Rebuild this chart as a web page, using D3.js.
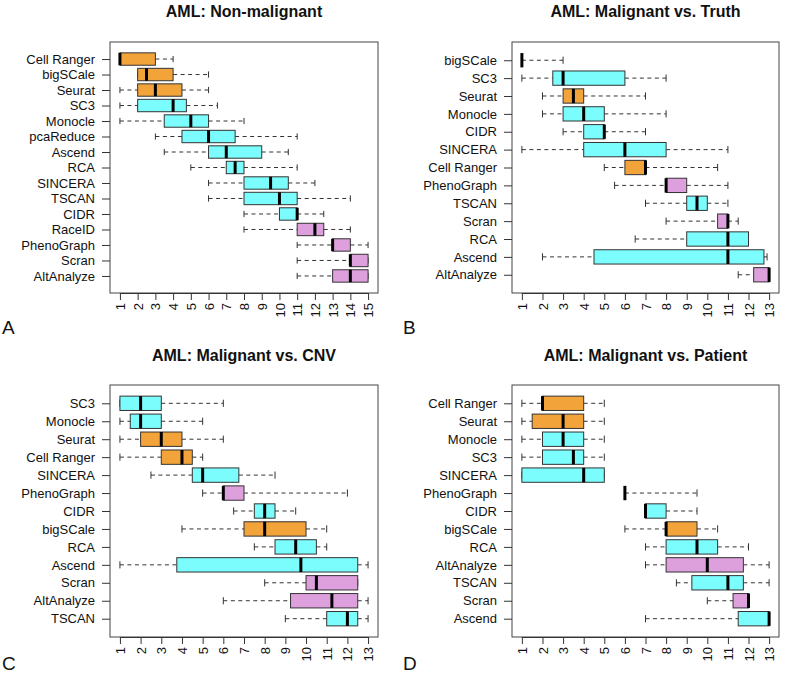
<!DOCTYPE html>
<html>
<head>
<meta charset="utf-8">
<script src="https://cdnjs.cloudflare.com/ajax/libs/d3/7.8.5/d3.min.js"></script>
<style>
  body { margin: 0; background: #fff; }
  svg { display: block; font-family: "Liberation Sans", Arial, sans-serif; }
</style>
</head>
<body>
<svg id="chart" width="787" height="679"></svg>
<script>
// ---------- Data (five-number summaries) ----------
// Panel A: AML: Non-malignant
const aTitle = "AML: Non-malignant";
const aMethods = ["Cell Ranger","bigSCale","Seurat","SC3","Monocle","pcaReduce","Ascend","RCA","SINCERA","TSCAN","CIDR","RaceID","PhenoGraph","Scran","AltAnalyze"];
const aMin = [1, 2, 1, 1, 1, 3, 3.5, 5, 6, 6, 8, 8, 11, 11, 11];
const aQ1  = [1, 2, 2, 2, 3.5, 4.5, 6, 7, 8, 8, 10, 11, 13, 14, 13];
const aMed = [1, 2.5, 3, 4, 5, 6, 7, 7.5, 9.5, 10, 11, 12, 13, 14, 14];
const aQ3  = [3, 4, 4.5, 4.75, 6, 7.5, 9, 8, 10.5, 11, 11, 12.5, 14, 15, 15];
const aMax = [4, 6, 6, 6.5, 8, 11, 10.5, 11, 12, 14, 12.5, 14, 15, 15, 15];
const aTicks = [1,2,3,4,5,6,7,8,9,10,11,12,13,14,15];

// Panel B: AML: Malignant vs. Truth
const bTitle = "AML: Malignant vs. Truth";
const bMethods = ["bigSCale","SC3","Seurat","Monocle","CIDR","SINCERA","Cell Ranger","PhenoGraph","TSCAN","Scran","RCA","Ascend","AltAnalyze"];
const bMin = [1, 1, 2, 2, 3, 1, 5, 5.5, 7, 8, 6.5, 2, 11.5];
const bQ1  = [1, 2.5, 3, 3, 4, 4, 6, 8, 9, 10.5, 9, 4.5, 12.25];
const bMed = [1, 3, 3.5, 4, 5, 6, 7, 8, 9.5, 11, 11, 11, 13];
const bQ3  = [1, 6, 4, 5, 5, 8, 7, 9, 10, 11, 12, 12.75, 13];
const bMax = [3, 8, 7, 8, 7, 11, 10.5, 11, 11, 11.5, 12, 12.9, 13];
const bTicks = [1,2,3,4,5,6,7,8,9,10,11,12,13];

// Panel C: AML: Malignant vs. CNV
const cTitle = "AML: Malignant vs. CNV";
const cMethods = ["SC3","Monocle","Seurat","Cell Ranger","SINCERA","PhenoGraph","CIDR","bigSCale","RCA","Ascend","Scran","AltAnalyze","TSCAN"];
const cMin = [1, 1, 1, 1, 2.5, 5, 6.5, 4, 7.5, 1, 8, 6, 9];
const cQ1  = [1, 1.5, 2, 3, 4.5, 6, 7.5, 7, 8.5, 3.75, 10, 9.25, 11];
const cMed = [2, 2, 3, 4, 5, 6, 8, 8, 9.5, 9.75, 10.5, 11.25, 12];
const cQ3  = [3, 3, 4, 4.5, 6.75, 7, 8.5, 10, 10.5, 12.5, 12.5, 12.5, 12.5];
const cMax = [6, 5, 6, 5, 8.5, 12, 9.5, 11, 11, 13, 12.5, 13, 13];
const cTicks = [1,2,3,4,5,6,7,8,9,10,11,12,13];

// Panel D: AML: Malignant vs. Patient
const dTitle = "AML: Malignant vs. Patient";
const dMethods = ["Cell Ranger","Seurat","Monocle","SC3","SINCERA","PhenoGraph","CIDR","bigSCale","RCA","AltAnalyze","TSCAN","Scran","Ascend"];
const dMin = [1, 1, 1, 1, 1, 6, 7, 6, 7, 7, 8.5, 10, 7];
const dQ1  = [2, 1.5, 2, 2, 1, 6, 7, 8, 8, 8, 9.25, 11.25, 11.5];
const dMed = [2, 3, 3, 3.5, 4, 6, 7, 8, 9.5, 10, 11, 12, 13];
const dQ3  = [4, 4, 4, 4, 5, 6, 8, 9.5, 10.5, 11.75, 11.75, 12, 13];
const dMax = [5, 5, 5, 5, 5, 9.5, 9.5, 10.5, 12, 13, 13, 12, 13];
const dTicks = [1,2,3,4,5,6,7,8,9,10,11,12,13];

// Method family colours
const orangeMethods = ["Cell Ranger","bigSCale","Seurat"];
const plumMethods = ["RaceID","PhenoGraph","Scran","AltAnalyze"];
const colOrange = "#F2A33A", colCyan = "#7CFDFD", colPlum = "#DDA0DD";
function fillFor(m) {
  if (orangeMethods.includes(m)) return colOrange;
  if (plumMethods.includes(m)) return colPlum;
  return colCyan;
}

// ---------- Drawing ----------
const svg = d3.select("#chart");

function panel(opts) {
  const {title, methods, mins, q1s, meds, q3s, maxs, ticks, left, right, top, bottom, letter, letterX, letterY, titleY} = opts;
  const n = methods.length;
  const lo = d3.min(ticks), hi = d3.max(ticks);
  const ext = (hi - lo) * 0.04;
  const x = d3.scaleLinear().domain([lo - ext, hi + ext]).range([left, right]);
  const yext = n * 0.04;
  const y = d3.scaleLinear().domain([n + 0.5 + yext, 0.5 - yext]).range([top, bottom]);
  const pos = i => n - i;
  const halfBox = Math.abs(y(0) - y(0.4));
  const halfStaple = Math.abs(y(0) - y(0.2));

  const g = svg.append("g");

  g.append("text")
    .attr("x", (left + right) / 2).attr("y", titleY)
    .attr("text-anchor", "middle")
    .attr("font-size", "16px").attr("font-weight", "bold")
    .attr("fill", "#111")
    .text(title);

  methods.forEach((m, i) => {
    const cy = y(pos(i));
    const row = g.append("g");
    if (mins[i] < q1s[i]) {
      row.append("line").attr("x1", x(mins[i])).attr("x2", x(q1s[i]))
        .attr("y1", cy).attr("y2", cy)
        .attr("stroke", "#333").attr("stroke-width", 1).attr("stroke-dasharray", "4,3.5");
    }
    if (maxs[i] > q3s[i]) {
      row.append("line").attr("x1", x(q3s[i])).attr("x2", x(maxs[i]))
        .attr("y1", cy).attr("y2", cy)
        .attr("stroke", "#333").attr("stroke-width", 1).attr("stroke-dasharray", "4,3.5");
    }
    [mins[i], maxs[i]].forEach(v => {
      row.append("line").attr("x1", x(v)).attr("x2", x(v))
        .attr("y1", cy - halfStaple).attr("y2", cy + halfStaple)
        .attr("stroke", "#333").attr("stroke-width", 1);
    });
    row.append("rect")
      .attr("x", x(q1s[i])).attr("y", cy - halfBox)
      .attr("width", Math.max(0, x(q3s[i]) - x(q1s[i])))
      .attr("height", 2 * halfBox)
      .attr("fill", fillFor(m)).attr("stroke", "#333").attr("stroke-width", 1);
    row.append("line").attr("x1", x(meds[i])).attr("x2", x(meds[i]))
      .attr("y1", cy - halfBox).attr("y2", cy + halfBox)
      .attr("stroke", "#000").attr("stroke-width", 3);
  });

  g.append("rect").attr("x", left).attr("y", top)
    .attr("width", right - left).attr("height", bottom - top)
    .attr("fill", "none").attr("stroke", "#444").attr("stroke-width", 1);

  const xAxis = g.append("g").attr("transform", `translate(0,${bottom})`)
    .call(d3.axisBottom(x).tickValues(ticks).tickSize(7).tickPadding(3).tickSizeOuter(0)
      .tickFormat(d3.format("d")));
  xAxis.select(".domain").attr("stroke", "#333")
    .attr("d", `M${x(lo)},0.5H${x(hi)}`);
  xAxis.selectAll(".tick line").attr("stroke", "#333");
  xAxis.selectAll(".tick text")
    .attr("font-size", "13px").attr("font-family", "Liberation Sans, Arial, sans-serif")
    .attr("fill", "#111")
    .attr("text-anchor", "end")
    .attr("transform", "rotate(-90)")
    .attr("x", -10).attr("y", 0).attr("dy", "0.35em");

  const yAxis = g.append("g").attr("transform", `translate(${left},0)`)
    .call(d3.axisLeft(y).tickValues(methods.map((m, i) => pos(i))).tickSize(8).tickPadding(7)
      .tickFormat(v => methods[n - v]));
  yAxis.select(".domain").remove();
  yAxis.selectAll(".tick line").attr("stroke", "#333");
  yAxis.selectAll(".tick text")
    .attr("font-size", "13px").attr("font-family", "Liberation Sans, Arial, sans-serif")
    .attr("fill", "#111");

  svg.append("text").attr("x", letterX).attr("y", letterY)
    .attr("font-size", "19px").attr("fill", "#111")
    .attr("font-family", "Liberation Sans, Arial, sans-serif")
    .text(letter);
}

panel({title: aTitle, methods: aMethods, mins: aMin, q1s: aQ1, meds: aMed, q3s: aQ3, maxs: aMax, ticks: aTicks,
  left: 110, right: 378, top: 42, bottom: 293, letter: "A", letterX: 2, letterY: 334, titleY: 17});
panel({title: bTitle, methods: bMethods, mins: bMin, q1s: bQ1, meds: bMed, q3s: bQ3, maxs: bMax, ticks: bTicks,
  left: 512, right: 779, top: 42, bottom: 293, letter: "B", letterX: 403, letterY: 334, titleY: 17});
panel({title: cTitle, methods: cMethods, mins: cMin, q1s: cQ1, meds: cMed, q3s: cQ3, maxs: cMax, ticks: cTicks,
  left: 110, right: 378, top: 385, bottom: 637, letter: "C", letterX: 2, letterY: 670, titleY: 361});
panel({title: dTitle, methods: dMethods, mins: dMin, q1s: dQ1, meds: dMed, q3s: dQ3, maxs: dMax, ticks: dTicks,
  left: 512, right: 779, top: 385, bottom: 637, letter: "D", letterX: 403, letterY: 670, titleY: 361});
</script>
</body>
</html>
